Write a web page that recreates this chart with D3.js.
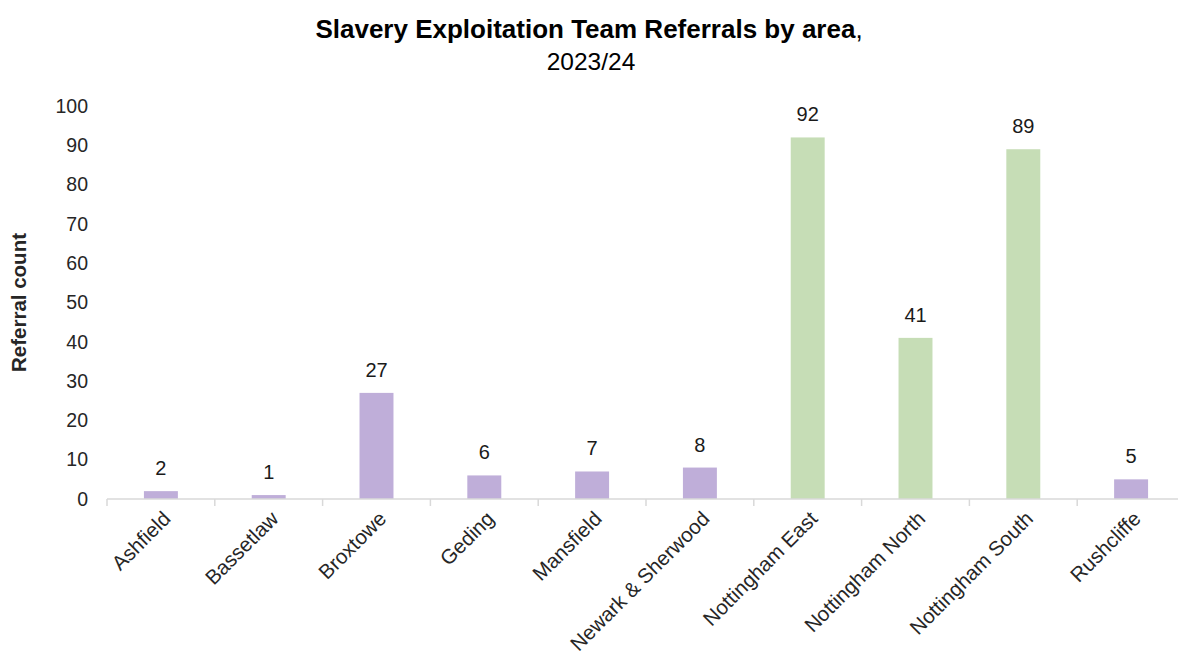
<!DOCTYPE html>
<html>
<head>
<meta charset="utf-8">
<script src="https://cdn.jsdelivr.net/npm/d3@7"></script>
<style>
  html, body { margin: 0; padding: 0; background: #fff; }
  svg { display: block; font-family: Arial, "Liberation Sans", sans-serif; }
</style>
</head>
<body>
<svg id="chart" width="1178" height="662"></svg>
<script>
// Referrals per area, 2023/24
const areas = ["Ashfield", "Bassetlaw", "Broxtowe", "Geding", "Mansfield",
               "Newark & Sherwood", "Nottingham East", "Nottingham North",
               "Nottingham South", "Rushcliffe"];
const referrals = [2, 1, 27, 6, 7, 8, 92, 41, 89, 5];
// City areas are drawn in green, county areas in purple
const areaGroup = ["county", "county", "county", "county", "county",
                   "county", "city", "city", "city", "county"];
const yTicks = [0, 10, 20, 30, 40, 50, 60, 70, 80, 90, 100];

const groupColour = { county: "#bfaed9", city: "#c6ddb6" };

const svg = d3.select("#chart");
const plot = { left: 107, right: 1185, top: 106, bottom: 499 };

const x = d3.scaleBand()
  .domain(areas)
  .range([plot.left, plot.right])
  .paddingInner(0.685)
  .paddingOuter(0.3425);

const y = d3.scaleLinear()
  .domain([0, 100])
  .range([plot.bottom, plot.top]);

// Title
const title = svg.append("text")
  .attr("x", 589).attr("y", 38)
  .attr("text-anchor", "middle")
  .attr("font-size", 26)
  .attr("fill", "#000");
title.append("tspan").attr("font-weight", "bold").text("Slavery Exploitation Team Referrals by area");
title.append("tspan").text(",");

svg.append("text")
  .attr("x", 591).attr("y", 70)
  .attr("text-anchor", "middle")
  .attr("font-size", 24.5)
  .attr("fill", "#000")
  .text("2023/24");

// Y axis (labels only, no line)
const yAxis = svg.append("g")
  .attr("transform", `translate(${plot.left},0)`)
  .call(d3.axisLeft(y).tickValues(yTicks).tickSize(0).tickPadding(19));
yAxis.select(".domain").remove();
yAxis.selectAll("text")
  .attr("font-size", 19.5)
  .attr("font-family", "Arial, 'Liberation Sans', sans-serif")
  .attr("fill", "#262626");

svg.append("text")
  .attr("transform", `translate(26,${(plot.top + plot.bottom) / 2}) rotate(-90)`)
  .attr("text-anchor", "middle")
  .attr("font-size", 20.5)
  .attr("font-weight", "bold")
  .attr("fill", "#262626")
  .text("Referral count");

// Bars
svg.append("g").selectAll("rect")
  .data(areas)
  .join("rect")
  .attr("x", d => x(d))
  .attr("width", x.bandwidth())
  .attr("y", (d, i) => y(referrals[i]))
  .attr("height", (d, i) => y(0) - y(referrals[i]))
  .attr("fill", (d, i) => groupColour[areaGroup[i]]);

// Value labels
svg.append("g").selectAll("text")
  .data(areas)
  .join("text")
  .attr("x", d => x(d) + x.bandwidth() / 2)
  .attr("y", (d, i) => y(referrals[i]) - 16)
  .attr("text-anchor", "middle")
  .attr("font-size", 20)
  .attr("fill", "#1a1a1a")
  .text((d, i) => referrals[i]);

// X axis: baseline with tick marks at category boundaries
const step = x.step();
const axisG = svg.append("g");
axisG.append("line")
  .attr("x1", plot.left).attr("x2", plot.right)
  .attr("y1", plot.bottom).attr("y2", plot.bottom)
  .attr("stroke", "#d9d9d9").attr("stroke-width", 1.5);
axisG.selectAll("line.tick")
  .data(areas)
  .join("line")
  .attr("class", "tick")
  .attr("x1", d => x(d) + x.bandwidth() / 2 - step / 2)
  .attr("x2", d => x(d) + x.bandwidth() / 2 - step / 2)
  .attr("y1", plot.bottom).attr("y2", plot.bottom + 7)
  .attr("stroke", "#d9d9d9").attr("stroke-width", 1.5);

// Rotated category labels
svg.append("g").selectAll("text")
  .data(areas)
  .join("text")
  .attr("transform", d => `translate(${x(d) + x.bandwidth() / 2 + 11},${plot.bottom + 21}) rotate(-45)`)
  .attr("text-anchor", "end")
  .attr("font-size", 20.5)
  .attr("fill", "#262626")
  .text(d => d);
</script>
</body>
</html>
